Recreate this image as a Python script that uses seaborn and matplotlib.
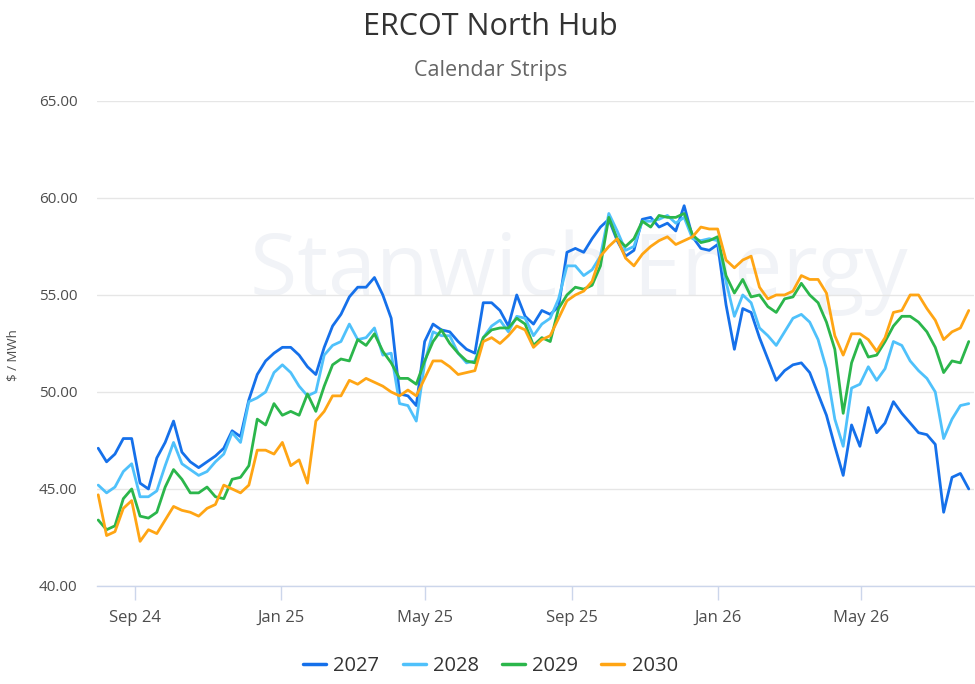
import numpy as np
import pandas as pd
import seaborn as sns
import matplotlib.pyplot as plt
import matplotlib.lines as mlines

# weekly marks, Aug 2024 -> Jul 2026
dates = pd.date_range("2024-08-01", periods=105, freq="7D")

strip_2027 = [47.1, 46.4, 46.8, 47.6, 47.6, 45.3, 45.0, 46.6, 47.4, 48.5, 46.9, 46.4, 46.1, 46.4,
              46.7, 47.1, 48.0, 47.7, 49.6, 50.9, 51.6, 52.0, 52.3, 52.3, 51.9, 51.3, 50.9,
              52.3, 53.4, 54.0, 54.9, 55.4, 55.4, 55.9, 55.0, 53.8, 49.9, 49.8, 49.3, 52.6,
              53.5, 53.2, 53.1, 52.6, 52.2, 52.0, 54.6, 54.6, 54.2, 53.4, 55.0, 53.9, 53.5,
              54.2, 54.0, 54.4, 57.2, 57.4, 57.2, 57.9, 58.5, 58.9, 57.8, 57.0, 57.3, 58.9, 59.0,
              58.5, 58.7, 58.3, 59.6, 58.0, 57.4, 57.3, 57.6, 54.5, 52.2, 54.3, 54.1, 52.8,
              51.7, 50.6, 51.1, 51.4, 51.5, 51.0, 49.9, 48.8, 47.2, 45.7, 48.3, 47.2, 49.2,
              47.9, 48.4, 49.5, 48.9, 48.4, 47.9, 47.8, 47.3, 43.8, 45.6, 45.8, 45.0]

strip_2028 = [45.2, 44.8, 45.1, 45.9, 46.3, 44.6, 44.6, 44.9, 46.2, 47.4, 46.3, 46.0, 45.7, 45.9,
              46.4, 46.8, 47.9, 47.4, 49.5, 49.7, 50.0, 51.0, 51.4, 51.0, 50.3, 49.8, 50.0,
              51.9, 52.4, 52.6, 53.5, 52.7, 52.8, 53.3, 51.9, 52.0, 49.4, 49.3, 48.5, 51.5,
              53.1, 52.9, 52.9, 52.0, 51.5, 51.6, 52.8, 53.4, 53.7, 53.1, 53.9, 53.8, 52.9,
              53.5, 53.8, 54.8, 56.5, 56.5, 56.0, 56.3, 57.0, 59.2, 58.3, 57.3, 57.5, 58.8, 58.8,
              58.9, 59.1, 58.7, 59.0, 57.9, 57.8, 57.9, 57.8, 55.7, 53.9, 55.0, 54.6, 53.3,
              52.9, 52.4, 53.1, 53.8, 54.0, 53.6, 52.7, 51.2, 48.6, 47.2, 50.2, 50.4, 51.3,
              50.6, 51.2, 52.6, 52.4, 51.6, 51.1, 50.7, 50.0, 47.6, 48.6, 49.3, 49.4]

strip_2029 = [43.4, 42.9, 43.1, 44.5, 45.0, 43.6, 43.5, 43.8, 45.1, 46.0, 45.5, 44.8, 44.8, 45.1,
              44.6, 44.5, 45.5, 45.6, 46.2, 48.6, 48.3, 49.4, 48.8, 49.0, 48.8, 49.9, 49.0,
              50.3, 51.4, 51.7, 51.6, 52.7, 52.4, 53.0, 52.1, 51.5, 50.7, 50.7, 50.4, 51.6,
              52.6, 53.2, 52.5, 52.0, 51.6, 51.5, 52.8, 53.2, 53.3, 53.3, 53.8, 53.5, 52.4,
              52.8, 52.6, 54.3, 55.0, 55.4, 55.3, 55.5, 56.5, 59.0, 57.9, 57.5, 57.9, 58.8, 58.5,
              59.1, 59.0, 59.0, 59.2, 58.1, 57.7, 57.8, 58.0, 56.0, 55.1, 55.8, 54.9, 55.0,
              54.4, 54.1, 54.8, 54.9, 55.6, 55.0, 54.6, 53.6, 52.2, 48.9, 51.5, 52.7, 51.8,
              51.9, 52.6, 53.4, 53.9, 53.9, 53.6, 53.1, 52.3, 51.0, 51.6, 51.5, 52.6]

strip_2030 = [44.7, 42.6, 42.8, 44.0, 44.4, 42.3, 42.9, 42.7, 43.4, 44.1, 43.9, 43.8, 43.6, 44.0,
              44.2, 45.2, 45.0, 44.8, 45.2, 47.0, 47.0, 46.8, 47.4, 46.2, 46.5, 45.3, 48.5,
              49.0, 49.8, 49.8, 50.6, 50.4, 50.7, 50.5, 50.3, 50.0, 49.8, 50.1, 49.8, 50.7,
              51.6, 51.6, 51.3, 50.9, 51.0, 51.1, 52.6, 52.8, 52.5, 52.9, 53.4, 53.2, 52.3,
              52.7, 52.9, 53.8, 54.7, 55.0, 55.2, 55.7, 57.0, 57.5, 57.9, 56.9, 56.5, 57.1, 57.5,
              57.8, 58.0, 57.6, 57.8, 58.0, 58.5, 58.4, 58.4, 56.8, 56.4, 56.8, 57.0, 55.4,
              54.8, 55.0, 55.0, 55.2, 56.0, 55.8, 55.8, 55.1, 52.9, 51.9, 53.0, 53.0, 52.7,
              52.1, 52.8, 54.1, 54.2, 55.0, 55.0, 54.3, 53.7, 52.7, 53.1, 53.3, 54.2]

years = ["2027", "2028", "2029", "2030"]
colors = ["#1570ea", "#4fc1fb", "#2bb64b", "#ffa514"]
palette = dict(zip(years, colors))

tick_dates = pd.to_datetime(["2024-09-01", "2025-01-01", "2025-05-01",
                             "2025-09-01", "2026-01-01", "2026-05-01"])
tick_labels = ["Sep 24", "Jan 25", "May 25", "Sep 25", "Jan 26", "May 26"]
y_ticks = [40, 45, 50, 55, 60, 65]

df = pd.DataFrame({
    "date": np.tile(dates, 4),
    "price": np.concatenate([strip_2027, strip_2028, strip_2029, strip_2030]),
    "strip": np.repeat(years, len(dates)),
})

sns.set_theme(style="white")
plt.rcParams["font.family"] = ["Open Sans", "DejaVu Sans"]

fig = plt.figure(figsize=(9.75, 6.84), dpi=100)
ax = fig.add_axes([0.0995, 0.1433, 0.899, 0.7091])

# faint watermark behind the lines
ax.text(0.55, 0.645, "Stanwich Energy", transform=ax.transAxes, ha="center", va="center",
        fontsize=62, color="#f1f3f7", zorder=0)

sns.lineplot(data=df, x="date", y="price", hue="strip", palette=palette,
             linewidth=2.0, ax=ax, legend=False, zorder=3)

ax.set_xlim(pd.Timestamp("2024-07-31"), pd.Timestamp("2026-08-03"))
ax.set_ylim(40, 65)
ax.set_yticks(y_ticks)
ax.set_yticklabels([f"{v:.2f}" for v in y_ticks])
ax.set_xticks(tick_dates)
ax.set_xticklabels(tick_labels)
ax.set_xlabel("")
ax.set_ylabel("")

ax.yaxis.grid(True, color="#e6e6e6", linewidth=1)
ax.xaxis.grid(False)
for s in ["top", "right", "left"]:
    ax.spines[s].set_visible(False)
ax.spines["bottom"].set_color("#ccd6eb")
ax.spines["bottom"].set_linewidth(1)

ax.tick_params(axis="y", length=0, pad=14, labelsize=11, labelcolor="#4d4d4d")
ax.tick_params(axis="x", direction="out", length=10, width=1, color="#ccd6eb",
               pad=7, labelsize=12, labelcolor="#4d4d4d", bottom=True)

fig.text(0.503, 0.96, "ERCOT North Hub", ha="center", va="center", fontsize=22, color="#333333")
fig.text(0.503, 0.897, "Calendar Strips", ha="center", va="center", fontsize=15.5, color="#666666")
fig.text(0.013, 0.481, "\\$ / MWh", ha="center", va="center", rotation=90, fontsize=9.5, color="#4d4d4d")

handles = [mlines.Line2D([], [], color=c, linewidth=2.5, label=y) for y, c in zip(years, colors)]
fig.legend(handles=handles, loc="center", bbox_to_anchor=(0.503, 0.026), ncol=4, frameon=False,
           fontsize=14.5, handlelength=1.15, handletextpad=0.35, columnspacing=1.15,
           labelcolor="#333333")

plt.savefig("out.png", dpi=100)
